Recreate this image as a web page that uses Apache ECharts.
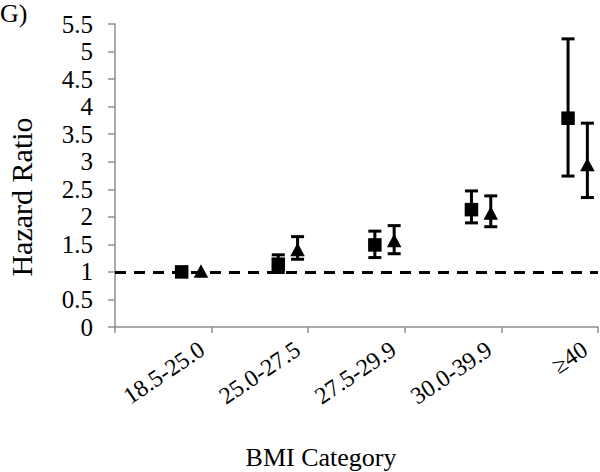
<!DOCTYPE html>
<html>
<head>
<meta charset="utf-8">
<script src="https://cdn.jsdelivr.net/npm/echarts@6/dist/echarts.min.js"></script>
<style>
html,body{margin:0;padding:0;background:#fff;}
#chart{width:600px;height:472px;}
</style>
</head>
<body>
<div id="chart"></div>
<script>
// ---- data ----
const categories = ['18.5-25.0', '25.0-27.5', '27.5-29.9', '30.0-39.9', '\u226540'];
const squareHR   = [1.00, 1.14, 1.49, 2.13, 3.79];
const squareLow  = [1.00, 0.99, 1.26, 1.89, 2.74];
const squareHigh = [1.00, 1.31, 1.74, 2.47, 5.23];
const triHR      = [1.00, 1.39, 1.55, 2.05, 2.93];
const triLow     = [1.00, 1.23, 1.33, 1.82, 2.35];
const triHigh    = [1.00, 1.64, 1.84, 2.38, 3.70];
const referenceHR = 1;
const yTicks = {min: 0, max: 5.5, interval: 0.5};

const FONT = "'Liberation Serif', 'Times New Roman', serif";

function rows(hr, lo, hi) {
  return hr.map((v, i) => [i, v, lo[i], hi[i]]);
}

function makeRender(offsetFrac, shape) {
  return function (params, api) {
    const i = api.value(0);
    const m = api.value(1), lo = api.value(2), hi = api.value(3);
    const bw = api.size([1, 0])[0];
    const c = api.coord([i, m]);
    const x = c[0] + bw * offsetFrac;
    const y = c[1];
    const yLo = api.coord([i, lo])[1];
    const yHi = api.coord([i, hi])[1];
    const capW = 6.5;
    const ls = {stroke: '#000', lineWidth: 3};
    const children = [];
    if (Math.abs(yLo - yHi) > 0.5) {
      children.push({type: 'line', shape: {x1: x, y1: yHi, x2: x, y2: yLo}, style: ls});
      children.push({type: 'line', shape: {x1: x - capW, y1: yHi, x2: x + capW, y2: yHi}, style: ls});
      children.push({type: 'line', shape: {x1: x - capW, y1: yLo, x2: x + capW, y2: yLo}, style: ls});
    }
    if (shape === 'square') {
      const s = 13.5;
      children.push({type: 'rect', shape: {x: x - s / 2, y: y - s / 2, width: s, height: s}, style: {fill: '#000'}});
    } else {
      const w = 14.5, h = 13.5;
      children.push({type: 'polygon', shape: {points: [[x, y - h / 2 - 1], [x + w / 2, y + h / 2 - 1], [x - w / 2, y + h / 2 - 1]]}, style: {fill: '#000'}});
    }
    return {type: 'group', children: children};
  };
}

const chart = echarts.init(document.getElementById('chart'), null, {renderer: 'svg'});
chart.setOption({
  backgroundColor: '#fff',
  animation: false,
  grid: [
    {left: 115, right: 2, top: 24, bottom: 145},
    {left: 202, right: 15, top: 24, bottom: 145}
  ],
  xAxis: [
    {
      type: 'category', gridIndex: 0, data: categories, boundaryGap: true,
      axisLine: {lineStyle: {color: '#8f8f8f', width: 1.5}},
      axisTick: {show: true, length: 6, lineStyle: {color: '#8f8f8f', width: 1.5}},
      axisLabel: {show: false},
      splitLine: {show: false}
    },
    {
      type: 'category', gridIndex: 1, data: categories, boundaryGap: false,
      axisLine: {show: false}, axisTick: {show: false}, splitLine: {show: false},
      axisLabel: {
        show: true, interval: 0, rotate: 34, margin: 20, align: 'right', verticalAlign: 'middle',
        fontFamily: FONT, fontSize: 24, color: '#000'
      }
    }
  ],
  yAxis: [
    {
      type: 'value', gridIndex: 0, min: yTicks.min, max: yTicks.max, interval: yTicks.interval,
      axisLine: {show: true, lineStyle: {color: '#8f8f8f', width: 1.5}},
      axisTick: {show: true, length: 7, lineStyle: {color: '#8f8f8f', width: 1.5}},
      axisLabel: {margin: 22, fontFamily: FONT, fontSize: 25, color: '#000'},
      splitLine: {show: false}
    },
    {type: 'value', gridIndex: 1, min: yTicks.min, max: yTicks.max, show: false}
  ],
  graphic: [
    {type: 'text', left: 0, top: 0, style: {text: 'G)', font: '26px ' + FONT, fill: '#000'}},
    {type: 'text', x: 21, y: 197, rotation: Math.PI / 2,
      style: {text: 'Hazard Ratio', font: '30px ' + FONT, fill: '#000', align: 'center', verticalAlign: 'middle'}},
    {type: 'text', x: 321, y: 457,
      style: {text: 'BMI Category', font: '26px ' + FONT, fill: '#000', align: 'center', verticalAlign: 'middle'}}
  ],
  series: [
    {
      type: 'line', xAxisIndex: 0, yAxisIndex: 0, data: [], z: 1,
      markLine: {
        silent: true, symbol: 'none', label: {show: false},
        lineStyle: {color: '#000', width: 3, type: [11, 8]},
        data: [{yAxis: referenceHR}]
      }
    },
    {
      type: 'custom', name: 'square', xAxisIndex: 0, yAxisIndex: 0, z: 3,
      data: rows(squareHR, squareLow, squareHigh),
      encode: {x: 0, y: 1},
      renderItem: makeRender(0.19, 'square')
    },
    {
      type: 'custom', name: 'triangle', xAxisIndex: 0, yAxisIndex: 0, z: 3,
      data: rows(triHR, triLow, triHigh),
      encode: {x: 0, y: 1},
      renderItem: makeRender(0.39, 'triangle')
    }
  ]
});
</script>
</body>
</html>
